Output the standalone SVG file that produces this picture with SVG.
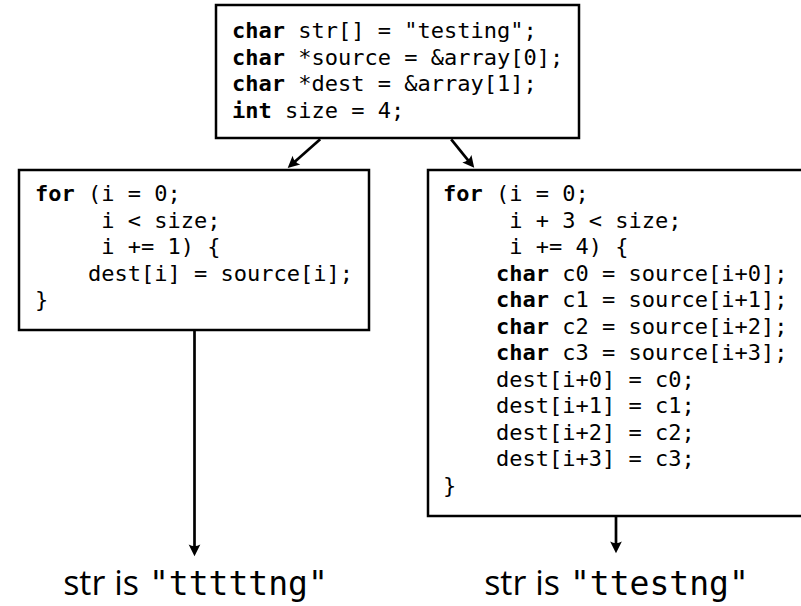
<svg xmlns="http://www.w3.org/2000/svg" width="801" height="606" viewBox="0 0 801 606">
  <defs>
    <style>
      .box{fill:#fff;stroke:#000;stroke-width:2.5}
      .code{font-family:"DejaVu Sans Mono","Liberation Mono",monospace;font-size:22px;white-space:pre;fill:#000}
      .kw{font-weight:bold}
      .wire{stroke:#000;stroke-width:2.7;fill:none}
      .label{font-family:"Open Sans","Noto Sans",sans-serif;font-size:34px;fill:#000}
      .lmono{font-family:"DejaVu Sans Mono","Liberation Mono",monospace;font-size:33px;white-space:pre;fill:#000}
    </style>
    <marker id="ah" markerUnits="userSpaceOnUse" markerWidth="20" markerHeight="20" viewBox="-14 -10 24 20" refX="0" refY="0" orient="auto" overflow="visible">
      <path d="M5,0 L-9,-7 Q-5,0 -9,7 Z" fill="#000"/>
    </marker>
  </defs>

  <rect width="801" height="606" fill="#fff"/>

  <!-- connectors: each aimed centre to centre, clipped at the borders -->
  <g id="connectors">
    <line class="wire" x1="320.2" y1="139.3" x2="290.8" y2="165.2" marker-end="url(#ah)"/>
    <line class="wire" x1="451.2" y1="139.3" x2="471.6" y2="164.6" marker-end="url(#ah)"/>
    <line class="wire" x1="194.5" y1="331" x2="194.5" y2="552" marker-end="url(#ah)"/>
    <line class="wire" x1="616" y1="517" x2="616" y2="549" marker-end="url(#ah)"/>
  </g>

  <!-- setup block -->
  <g id="setup">
    <rect class="box" x="216" y="5" width="363" height="133"/>
    <text class="code" x="232" y="38"><tspan class="kw">char</tspan> str[] = "testing";</text>
    <text class="code" x="232" y="64.5"><tspan class="kw">char</tspan> *source = &amp;array[0];</text>
    <text class="code" x="232" y="91"><tspan class="kw">char</tspan> *dest = &amp;array[1];</text>
    <text class="code" x="232" y="117.5"><tspan class="kw">int</tspan> size = 4;</text>
  </g>

  <!-- byte-by-byte loop -->
  <g id="loop-single">
    <rect class="box" x="19" y="170" width="350" height="160"/>
    <text class="code" x="35" y="201"><tspan class="kw">for</tspan> (i = 0;</text>
    <text class="code" x="35" y="227.5">     i &lt; size;</text>
    <text class="code" x="35" y="254">     i += 1) {</text>
    <text class="code" x="35" y="280.5">    dest[i] = source[i];</text>
    <text class="code" x="35" y="307">}</text>
  </g>

  <!-- unrolled loop -->
  <g id="loop-unrolled">
    <rect class="box" x="428" y="170" width="376" height="346"/>
    <text class="code" x="443" y="201"><tspan class="kw">for</tspan> (i = 0;</text>
    <text class="code" x="443" y="227.5">     i + 3 &lt; size;</text>
    <text class="code" x="443" y="254">     i += 4) {</text>
    <text class="code" x="443" y="280.5">    <tspan class="kw">char</tspan> c0 = source[i+0];</text>
    <text class="code" x="443" y="307">    <tspan class="kw">char</tspan> c1 = source[i+1];</text>
    <text class="code" x="443" y="333.5">    <tspan class="kw">char</tspan> c2 = source[i+2];</text>
    <text class="code" x="443" y="360">    <tspan class="kw">char</tspan> c3 = source[i+3];</text>
    <text class="code" x="443" y="386.5">    dest[i+0] = c0;</text>
    <text class="code" x="443" y="413">    dest[i+1] = c1;</text>
    <text class="code" x="443" y="439.5">    dest[i+2] = c2;</text>
    <text class="code" x="443" y="466">    dest[i+3] = c3;</text>
    <text class="code" x="443" y="492.5">}</text>
  </g>

  <!-- results -->
  <g id="result-single">
    <text class="label" x="139" y="595" text-anchor="end">str is</text>
    <text class="lmono" x="149" y="595">"tttttng"</text>
  </g>
  <g id="result-unrolled">
    <text class="label" x="560" y="595" text-anchor="end">str is</text>
    <text class="lmono" x="570" y="595">"ttestng"</text>
  </g>
</svg>
